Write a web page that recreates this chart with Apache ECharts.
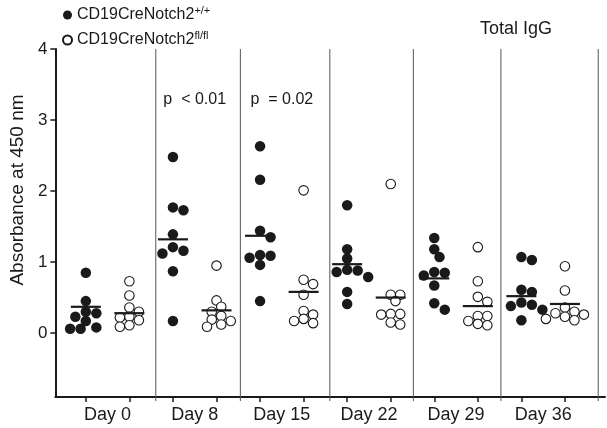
<!DOCTYPE html>
<html>
<head>
<meta charset="utf-8">
<script src="https://cdn.jsdelivr.net/npm/echarts@6/dist/echarts.min.js"></script>
<style>html,body{margin:0;padding:0;background:#fff}#c{width:607px;height:428px}</style>
</head>
<body>
<div id="c"></div>
<script>
const days = ['Day 0', 'Day 8', 'Day 15', 'Day 22', 'Day 29', 'Day 36'];
const groupNames = ['CD19CreNotch2+/+', 'CD19CreNotch2fl/fl'];
const wtValues = [
  [0.85, 0.45, 0.30, 0.28, 0.23, 0.17, 0.08, 0.06, 0.06],
  [2.48, 1.77, 1.73, 1.39, 1.21, 1.16, 1.12, 0.87, 0.17],
  [2.63, 2.16, 1.44, 1.35, 1.10, 1.09, 1.06, 0.96, 0.45],
  [1.80, 1.18, 1.05, 0.89, 0.88, 0.86, 0.79, 0.58, 0.41],
  [1.34, 1.18, 1.07, 0.86, 0.85, 0.81, 0.67, 0.42, 0.33],
  [1.07, 1.03, 0.61, 0.58, 0.43, 0.40, 0.38, 0.33, 0.18]
];
const koValues = [
  [0.73, 0.53, 0.36, 0.30, 0.23, 0.22, 0.18, 0.11, 0.09],
  [0.95, 0.46, 0.37, 0.30, 0.24, 0.19, 0.17, 0.12, 0.09],
  [2.01, 0.75, 0.69, 0.54, 0.31, 0.26, 0.20, 0.17, 0.14],
  [2.10, 0.54, 0.54, 0.45, 0.27, 0.27, 0.26, 0.15, 0.12],
  [1.21, 0.73, 0.51, 0.44, 0.24, 0.24, 0.17, 0.13, 0.11],
  [0.94, 0.60, 0.36, 0.30, 0.28, 0.26, 0.23, 0.20, 0.18]
];
const wtMeans = [0.37, 1.32, 1.37, 0.97, 0.77, 0.52];
const koMeans = [0.28, 0.32, 0.58, 0.50, 0.38, 0.41];
const yTicks = [0, 1, 2, 3, 4];
const separators = [0.553, 1.524, 2.551, 3.510, 4.515, 5.632];
const pAnnotations = [
  { day: 1, text: 'p  < 0.01' },
  { day: 2, text: 'p  = 0.02' }
];

const OFFSET = 0.25;
const Y_MIN = -0.9, Y_MAX = 4;
const P_LEVEL = 3.29;
const INK = '#1a1a1a';
const FONT = 'Liberation Sans, Arial, Helvetica, sans-serif';

const xTickValues = [];
days.forEach((d, i) => { xTickValues.push(i - OFFSET, i + OFFSET); });

const chart = echarts.init(document.getElementById('c'), null, { renderer: 'canvas' });

const baseOption = {
  animation: false,
  backgroundColor: '#fff',
  textStyle: { fontFamily: FONT, color: INK },
  title: {
    text: 'Total IgG', left: 475, top: 15,
    textStyle: { fontSize: 18, fontWeight: 'normal', color: INK, fontFamily: FONT }
  },
  legend: {
    data: groupNames,
    orient: 'vertical', left: 62, top: 5, itemGap: 7, padding: 0,
    itemWidth: 9, itemHeight: 9,
    formatter: name => {
      const sup = name.replace('CD19CreNotch2', '');
      return '{n|CD19CreNotch2}{s|' + sup + '}';
    },
    textStyle: {
      fontFamily: FONT, color: INK,
      rich: {
        n: { fontSize: 16, lineHeight: 20, fontFamily: FONT, color: INK },
        s: { fontSize: 11, verticalAlign: 'top', fontFamily: FONT, color: INK }
      }
    }
  },
  grid: { left: 52, right: 2, top: 49, bottom: 31 },
  xAxis: {
    type: 'value', min: -0.6, max: 5.71,
    splitLine: { show: false },
    axisLine: { onZero: false, lineStyle: { color: INK, width: 2 } },
    axisTick: { customValues: xTickValues, length: 5, lineStyle: { color: INK, width: 1.5 } },
    axisLabel: {
      customValues: days.map((d, i) => i),
      formatter: v => days[Math.round(v)],
      fontSize: 18, color: INK, margin: 9, fontFamily: FONT
    }
  },
  yAxis: {
    type: 'value', min: Y_MIN, max: Y_MAX,
    name: 'Absorbance at 450 nm', nameLocation: 'middle', nameGap: 26,
    nameTextStyle: { fontSize: 19, color: INK, fontFamily: FONT, padding: [0, 0, 0, 66] },
    splitLine: { show: false },
    axisLine: { onZero: false, lineStyle: { color: INK, width: 2 } },
    axisTick: { customValues: yTicks, length: 5, lineStyle: { color: INK, width: 1.5 } },
    axisLabel: { customValues: yTicks, fontSize: 17, color: INK, margin: 8, fontFamily: FONT }
  },
  series: [
    { name: groupNames[0], type: 'scatter', data: [] },
    { name: groupNames[1], type: 'scatter', data: [] }
  ]
};
chart.setOption(baseOption);

const p0 = chart.convertToPixel({ gridIndex: 0 }, [0, 0]);
const p1 = chart.convertToPixel({ gridIndex: 0 }, [1, 1]);
const pxX = p1[0] - p0[0];
const pxY = p0[1] - p1[1];

// simple beeswarm dodge computed from the values
function swarm(vals, center, diam) {
  const placed = [];
  const out = new Array(vals.length);
  const order = vals.map((v, i) => i).sort((a, b) => vals[b] - vals[a]);
  for (const i of order) {
    const y = vals[i] * pxY;
    let chosen = 0;
    for (let k = 0; k < 30; k++) {
      const off = (k % 2 === 1 ? 1 : -1) * Math.ceil(k / 2) * diam * 0.5;
      const ok = placed.every(p => Math.hypot(p[0] - off, p[1] - y) >= diam * 0.8);
      if (ok) { chosen = off; break; }
    }
    placed.push([chosen, y]);
    out[i] = [center + chosen / pxX, vals[i]];
  }
  return out;
}

const WT_SIZE = 10.5, KO_SIZE = 9.5;
const wtData = [], koData = [];
days.forEach((d, i) => {
  swarm(wtValues[i], i - OFFSET, WT_SIZE).forEach(p => wtData.push(p));
  swarm(koValues[i], i + OFFSET, KO_SIZE).forEach(p => koData.push(p));
});

const meanData = [];
days.forEach((d, i) => {
  meanData.push([i - OFFSET, wtMeans[i]]);
  meanData.push([i + OFFSET, koMeans[i]]);
});

chart.setOption({
  series: [
    {
      name: groupNames[0], type: 'scatter', data: wtData, z: 3,
      symbol: 'circle', symbolSize: WT_SIZE,
      itemStyle: { color: INK, opacity: 1 }
    },
    {
      name: groupNames[1], type: 'scatter', data: koData, z: 3,
      symbol: 'circle', symbolSize: KO_SIZE,
      itemStyle: { color: '#fff', borderColor: INK, borderWidth: 1.1, opacity: 1 }
    },
    {
      type: 'custom', name: 'separators', z: 1, silent: true,
      data: separators.map(s => [s, Y_MAX]),
      renderItem: (params, api) => {
        const top = api.coord([api.value(0), Y_MAX]);
        const bot = api.coord([api.value(0), Y_MIN]);
        return {
          type: 'line',
          shape: { x1: top[0], y1: top[1], x2: bot[0], y2: bot[1] + 4 },
          style: { stroke: '#555', lineWidth: 1 }
        };
      }
    },
    {
      type: 'custom', name: 'means', z: 4, silent: true,
      data: meanData,
      renderItem: (params, api) => {
        const c = api.coord([api.value(0), api.value(1)]);
        return {
          type: 'line',
          shape: { x1: c[0] - 15, y1: c[1], x2: c[0] + 15, y2: c[1] },
          style: { stroke: INK, lineWidth: 2.2 }
        };
      }
    },
    {
      type: 'custom', name: 'pvalues', z: 5, silent: true,
      data: pAnnotations.map(a => [a.day, P_LEVEL]),
      renderItem: (params, api) => {
        const c = api.coord([api.value(0), api.value(1)]);
        return {
          type: 'text', x: c[0], y: c[1],
          style: {
            text: pAnnotations[params.dataIndex].text,
            fontSize: 16, fontFamily: FONT, fill: INK,
            align: 'center', verticalAlign: 'middle'
          }
        };
      }
    }
  ]
});
</script>
</body>
</html>
